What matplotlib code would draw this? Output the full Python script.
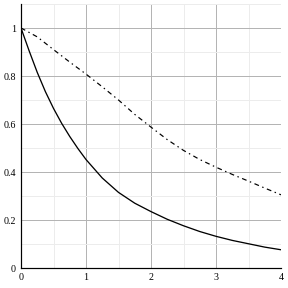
import numpy as np
import matplotlib
matplotlib.use("Agg")
import matplotlib.pyplot as plt
from matplotlib.ticker import MultipleLocator, FuncFormatter

# values
x_solid = [0.0, 0.125, 0.25, 0.375, 0.5, 0.625, 0.75, 0.875, 1.0, 1.25, 1.5,
           1.75, 2.0, 2.25, 2.5, 2.75, 3.0, 3.25, 3.5, 3.75, 4.0]
y_solid = [1.0, 0.905, 0.815, 0.735, 0.665, 0.603, 0.548, 0.498, 0.452, 0.375, 0.315,
           0.27, 0.235, 0.203, 0.176, 0.152, 0.132, 0.115, 0.101, 0.087, 0.076]

x_dash = [0.0, 0.25, 0.5, 0.75, 1.0, 1.25, 1.5, 1.75, 2.0, 2.25, 2.5,
          2.75, 3.0, 3.25, 3.5, 3.75, 4.0]
y_dash = [1.0, 0.963, 0.91, 0.858, 0.808, 0.755, 0.70, 0.64, 0.587, 0.535, 0.49,
          0.452, 0.42, 0.39, 0.362, 0.333, 0.305]

x_ticks = [0, 1, 2, 3, 4]
y_ticks = [0, 0.2, 0.4, 0.6, 0.8, 1.0]

plt.rcParams['font.family'] = ['Liberation Serif', 'DejaVu Serif']

fig = plt.figure(figsize=(4, 4), dpi=72)
ax = fig.add_axes([21/288, 1 - 268/288, 260/288, 264/288])

ax.plot(x_solid, y_solid, color='black', lw=1.3)
ax.plot(x_dash, y_dash, color='black', lw=1.2, dashes=(4, 3, 1.2, 3))

ax.set_xlim(0, 4)
ax.set_ylim(0, 1.1)
ax.set_xticks(x_ticks)
ax.set_yticks(y_ticks)
ax.xaxis.set_minor_locator(MultipleLocator(0.5))
ax.yaxis.set_minor_locator(MultipleLocator(0.1))
fmt = FuncFormatter(lambda v, p: f"{v:g}")
ax.xaxis.set_major_formatter(fmt)
ax.yaxis.set_major_formatter(fmt)

ax.grid(True, which='major', color='#b4b4b4', lw=1)
ax.grid(True, which='minor', color='#ececec', lw=1)
ax.set_axisbelow(True)

ax.tick_params(which='both', length=0, labelsize=10)
ax.tick_params(axis='x', pad=5)
ax.tick_params(axis='y', pad=5)

for side in ['top', 'right']:
    ax.spines[side].set_visible(False)
for side in ['left', 'bottom']:
    ax.spines[side].set_color('black')
    ax.spines[side].set_linewidth(1.2)

fig.savefig('out.png', dpi=72)
